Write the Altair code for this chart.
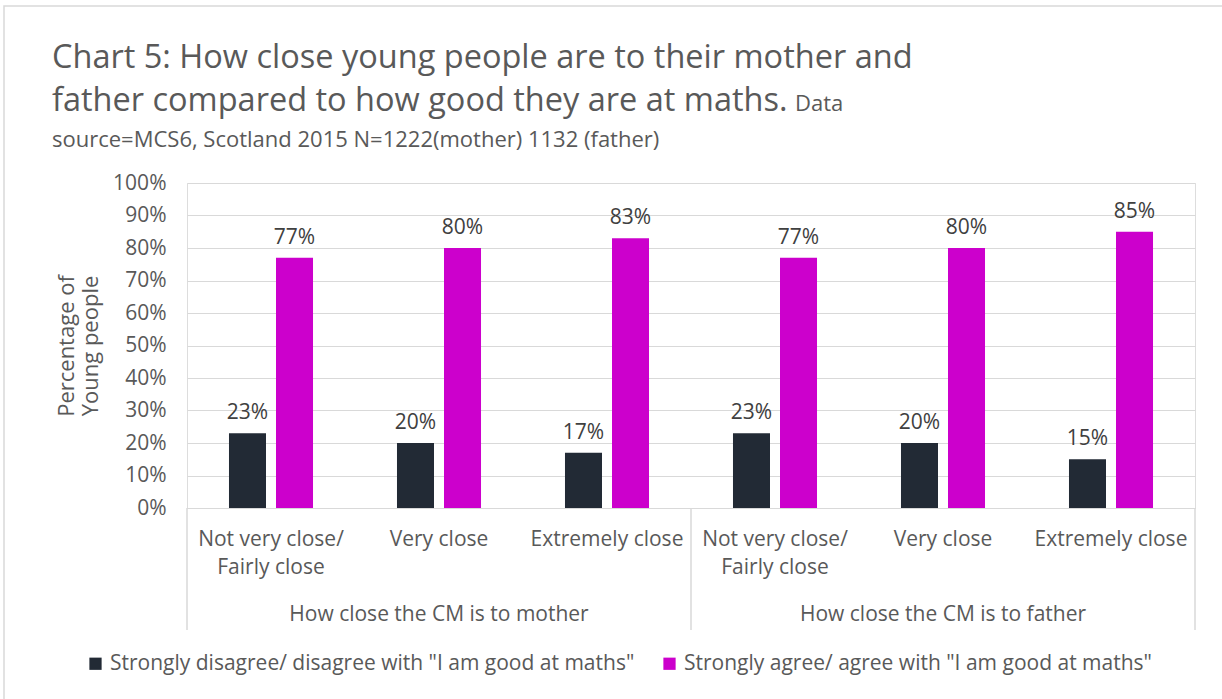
import altair as alt
import pandas as pd

groups = ["How close the CM is to mother", "How close the CM is to father"]
closeness = ["Not very close/ Fairly close", "Very close", "Extremely close"]
series = ['Strongly disagree/ disagree with "I am good at maths"',
          'Strongly agree/ agree with "I am good at maths"']
disagree = [23, 20, 17, 23, 20, 15]
agree = [77, 80, 83, 77, 80, 85]
y_ticks = [0, 10, 20, 30, 40, 50, 60, 70, 80, 90, 100]
colors = ["#222A35", "#CC00CC"]
title_lines = ["Chart 5: How close young people are to their mother and",
               "father compared to how good they are at maths."]
source_note = ["Data", "source=MCS6, Scotland 2015 N=1222(mother) 1132 (father)"]

keys = [f"{g}|{c}" for g in groups for c in closeness]

rows = []
for i, k in enumerate(keys):
    rows.append({"key": k, "series": series[0], "value": disagree[i]})
    rows.append({"key": k, "series": series[1], "value": agree[i]})
df = pd.DataFrame(rows)

FONT = "Open Sans"
GREY = "#595959"

label_expr = (
    "indexof(split(datum.label,'|')[1],'/ ') >= 0 ? "
    "[slice(split(datum.label,'|')[1],0,indexof(split(datum.label,'|')[1],'/ ')+1),"
    " slice(split(datum.label,'|')[1],indexof(split(datum.label,'|')[1],'/ ')+2)]"
    " : split(datum.label,'|')[1]"
)

x_enc = alt.X("key:N", sort=keys,
              scale=alt.Scale(paddingInner=0, paddingOuter=0),
              axis=alt.Axis(title=None, labelExpr=label_expr, labelAngle=0,
                            labelAlign="center", labelBaseline="top",
                            labelFontSize=21, labelColor=GREY, labelFont=FONT,
                            labelPadding=20, labelLineHeight=28,
                            labelOverlap=False, labelLimit=300,
                            domainColor="#D9D9D9", ticks=False))
xoff = alt.XOffset("series:N", sort=series,
                   scale=alt.Scale(paddingInner=0.2128, paddingOuter=0.893))

y_enc = alt.Y("value:Q", scale=alt.Scale(domain=[0, 100], nice=False),
              axis=alt.Axis(values=y_ticks, tickCount=11, labelExpr="datum.value + '%'",
                            title=["Percentage of", "Young people"],
                            titleFontSize=22, titleFontWeight="normal",
                            titleColor=GREY, titleFont=FONT, titlePadding=10,
                            labelFontSize=21, labelColor=GREY, labelFont=FONT,
                            labelPadding=21, labelOverlap=False,
                            domain=False, ticks=False, gridColor="#D9D9D9"))

bars = alt.Chart(df).mark_bar().encode(
    x=x_enc, xOffset=xoff, y=y_enc,
    color=alt.Color("series:N", sort=series,
                    scale=alt.Scale(domain=series, range=colors),
                    legend=alt.Legend(title=None, orient="none", direction="horizontal",
                                      legendX=-102, legendY=470,
                                      symbolType="square", symbolSize=150,
                                      symbolStrokeWidth=0,
                                      labelFontSize=21, labelColor=GREY,
                                      labelFont=FONT, labelLimit=700,
                                      columnPadding=24, symbolOffset=0,
                                      labelOffset=4)),
)

labels = alt.Chart(df).transform_calculate(
    txt="datum.value + '%'"
).mark_text(baseline="bottom", dy=-10, fontSize=21, color="#404040", font=FONT).encode(
    x=alt.X("key:N", sort=keys), xOffset=alt.XOffset("series:N", sort=series),
    y="value:Q", text="txt:N",
)

grp_df = pd.DataFrame({"key": [f"{g}|{closeness[1]}" for g in groups], "txt": groups})
grp = alt.Chart(grp_df).mark_text(baseline="middle", fontSize=21, color=GREY, font=FONT).encode(
    x=alt.X("key:N", sort=keys, bandPosition=0.5), y=alt.value(432), text="txt:N"
)

sep_start = pd.DataFrame({"key": [keys[0], keys[3]]})
sep_end = pd.DataFrame({"key": [keys[5]]})
rule1 = alt.Chart(sep_start).mark_rule(color="#D9D9D9", strokeWidth=1.5).encode(
    x=alt.X("key:N", sort=keys, bandPosition=0), y=alt.value(325), y2=alt.value(447)
)
rule2 = alt.Chart(sep_end).mark_rule(color="#D9D9D9", strokeWidth=1.5).encode(
    x=alt.X("key:N", sort=keys, bandPosition=1), y=alt.value(325), y2=alt.value(447)
)

frame = alt.Chart(pd.DataFrame({"f": [0]})).mark_rect(
    fill=None, stroke="#D9D9D9", strokeWidth=1.5
).encode(x=alt.value(-183), y=alt.value(-177), x2=alt.value(1060), y2=alt.value(540))

t1 = alt.Chart(pd.DataFrame({"t": [title_lines[0]]})).mark_text(
    align="left", baseline="alphabetic", fontSize=32.5, color=GREY, font=FONT
).encode(x=alt.value(-135), y=alt.value(-115), text="t:N")
t2 = alt.Chart(pd.DataFrame({"t": [title_lines[1]]})).mark_text(
    align="left", baseline="alphabetic", fontSize=32.5, color=GREY, font=FONT
).encode(x=alt.value(-135), y=alt.value(-72), text="t:N")
t3 = alt.Chart(pd.DataFrame({"t": [source_note[0]]})).mark_text(
    align="left", baseline="alphabetic", fontSize=22, color=GREY, font=FONT
).encode(x=alt.value(608), y=alt.value(-72), text="t:N")
t4 = alt.Chart(pd.DataFrame({"t": [source_note[1]]})).mark_text(
    align="left", baseline="alphabetic", fontSize=22, color=GREY, font=FONT
).encode(x=alt.value(-135), y=alt.value(-36), text="t:N")

chart = alt.layer(frame, rule1, rule2, bars, labels, grp, t1, t2, t3, t4).properties(
    width=1008, height=325,
    autosize=alt.AutoSizeParams(type="none"),
    padding={"left": 187, "top": 183, "right": 27, "bottom": 191},
).configure_view(stroke=None).configure(background="white")

chart.save("out.html", embed_options={"renderer": "svg", "actions": False})
